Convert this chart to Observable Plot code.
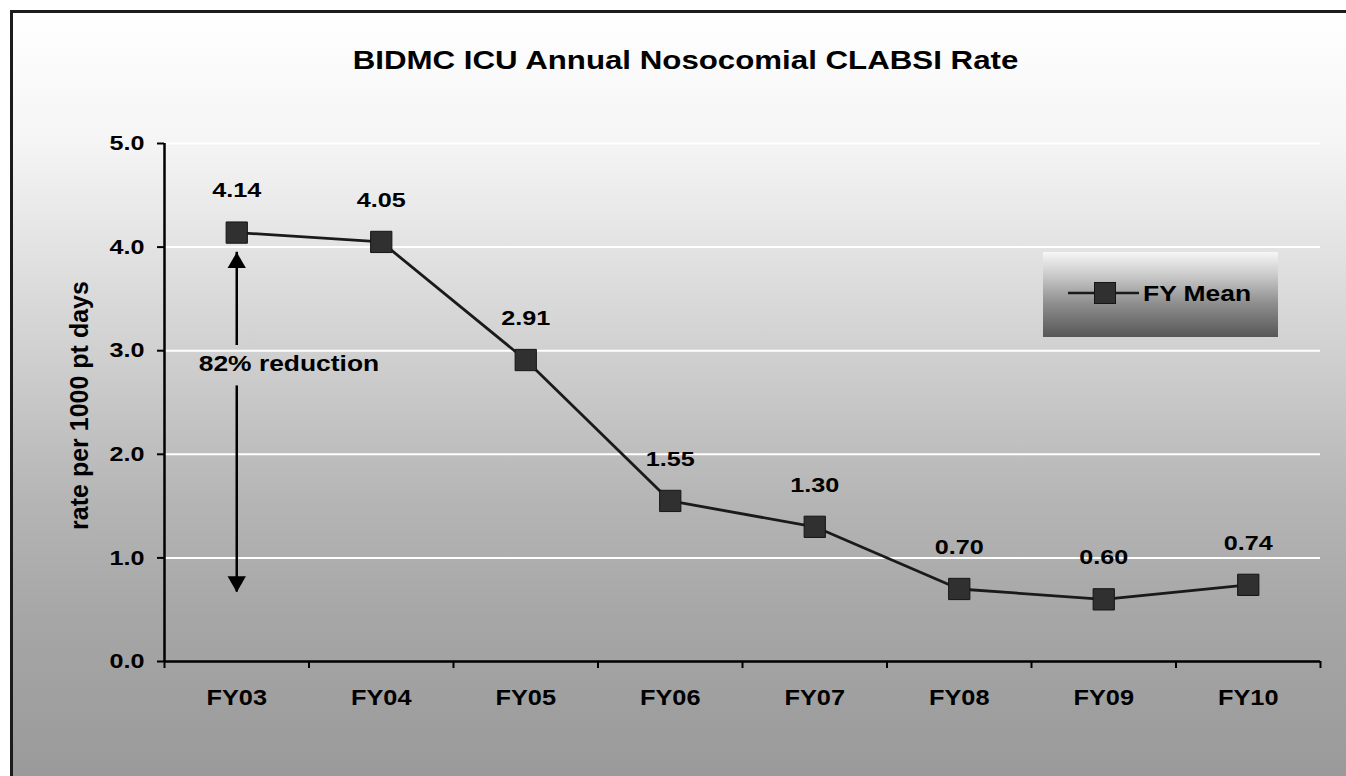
<!DOCTYPE html>
<html>
<head>
<meta charset="utf-8">
<script src="https://cdn.jsdelivr.net/npm/d3@7"></script>
<script src="https://cdn.jsdelivr.net/npm/@observablehq/plot@0.6"></script>
<style>
  html, body { margin: 0; padding: 0; background: #fff; overflow: hidden; width: 1346px; height: 776px; }
  #wrap { position: relative; width: 1346px; height: 776px; overflow: hidden; background: #fff; }
  #frame {
    position: absolute; left: 10px; top: 10px; width: 1336px; height: 766px;
    background: linear-gradient(to bottom, #ffffff 0px, #f5f5f5 130px, #e4e4e4 230px, #cbcbcb 370px, #b5b5b5 490px, #a6a6a6 610px, #9a9a9a 766px);
  }
  #edgeTop { position: absolute; left: 10px; top: 10px; width: 1336px; height: 3px; background: #1c1c1c; }
  #edgeLeft { position: absolute; left: 10px; top: 10px; width: 3px; height: 766px; background: #1c1c1c; }
  #chart { position: absolute; left: 0; top: 0; }
  #legend {
    position: absolute; left: 1043px; top: 252px; width: 235px; height: 85px;
    background: linear-gradient(to bottom, #f6f6f6 0%, #c9c9c9 28%, #8f8f8f 60%, #575757 100%);
  }
  #legend svg { position: absolute; left: 0; top: 0; }
</style>
</head>
<body>
<div id="wrap">
  <div id="frame"></div>
  <div id="edgeTop"></div>
  <div id="edgeLeft"></div>
  <div id="chart"></div>
  <div id="legend"></div>
</div>
<script>
// ---- data ----
const chartTitle = "BIDMC ICU Annual Nosocomial CLABSI Rate";
const yAxisTitle = "rate per 1000 pt days";
const seriesName = "FY Mean";
const categories = ["FY03", "FY04", "FY05", "FY06", "FY07", "FY08", "FY09", "FY10"];
const fyMean = [4.14, 4.05, 2.91, 1.55, 1.30, 0.70, 0.60, 0.74];
const yTicks = [0, 1, 2, 3, 4, 5];
const annotationText = "82% reduction";
const annotationCategory = "FY03";
const arrowEnds = [3.95, 0.67];     // arrow tips (rate units)
const arrowGap = [3.05, 2.66];      // gap in the shaft around the text
const annotationValue = 2.87;

// ---- table built from the arrays ----
const data = categories.map((c, i) => ({cat: c, pos: i + 0.5, value: fyMean[i]}));
const centers = categories.map((c, i) => i + 0.5);
const bounds = d3.range(categories.length + 1);
const annX = categories.indexOf(annotationCategory) + 0.5;
const shafts = [
  {x: annX, y1: arrowEnds[0], y2: arrowGap[0]},
  {x: annX, y1: arrowGap[1], y2: arrowEnds[1]}
];

const font = "'Liberation Sans', Arial, Helvetica, sans-serif";

const chart = Plot.plot({
  width: 1346,
  height: 776,
  marginLeft: 164,
  marginRight: 26,
  marginTop: 143,
  marginBottom: 115,
  x: {domain: [0, categories.length], label: null},
  y: {domain: [0, 5], label: null},
  style: {background: "transparent", fontFamily: font, fontWeight: "bold", color: "#000", overflow: "visible"},
  marks: [
    Plot.gridY(yTicks.filter(t => t > 0), {stroke: "#ffffff", strokeOpacity: 1, strokeWidth: 2}),
    Plot.axisY(yTicks, {tickSize: 7, tickPadding: 13, tickFormat: d3.format(".1f"), fontSize: 21, strokeWidth: 2, label: null}),
    Plot.axisX(bounds, {tickSize: 7, strokeWidth: 2, fill: "none", label: null}),
    Plot.axisX(centers, {tickSize: 0, tickPadding: 28, tickFormat: d => categories[Math.floor(d)], fontSize: 22, label: null}),
    Plot.ruleX([0], {y1: 0, y2: 5, stroke: "#000", strokeWidth: 2.5}),
    Plot.ruleY([0], {x1: 0, x2: categories.length, stroke: "#000", strokeWidth: 2.5}),
    Plot.line(data, {x: "pos", y: "value", stroke: "#1a1a1a", strokeWidth: 2.8}),
    Plot.dot(data, {x: "pos", y: "value", symbol: "square", r: 12, fill: "#303030", stroke: "#151515", strokeWidth: 1}),
    Plot.text(data, {x: "pos", y: "value", text: d => d3.format(".2f")(d.value), dy: -42, fontSize: 21, fill: "#000"}),
    Plot.ruleX(shafts, {x: "x", y1: "y1", y2: "y2", stroke: "#000", strokeWidth: 2.5}),
    Plot.dot([arrowEnds[0]], {x: () => annX, y: d => d, symbol: "triangle", r: 6.8, fill: "#000", dy: 10.5}),
    Plot.dot([arrowEnds[1]], {x: () => annX, y: d => d, symbol: "triangle", r: 6.8, fill: "#000", rotate: 180, dy: -10.5}),
    Plot.text([annotationText], {x: () => annX, y: () => annotationValue, textAnchor: "start", dx: -38, fontSize: 22, fill: "#000"}),
    Plot.text([chartTitle], {frameAnchor: "top", textAnchor: "middle", dx: -57, dy: -92, fontSize: 25, fill: "#000"}),
    Plot.text([yAxisTitle], {frameAnchor: "left", textAnchor: "middle", rotate: -90, dx: -85, dy: 3, fontSize: 25, fill: "#000"})
  ]
});
document.getElementById("chart").appendChild(chart);

// Legend (line + square marker + name)
const lg = d3.select("#legend").append("svg").attr("width", 235).attr("height", 85)
  .style("font-family", font).style("font-weight", "bold");
lg.append("line").attr("x1", 25).attr("x2", 96).attr("y1", 41).attr("y2", 41)
  .attr("stroke", "#1a1a1a").attr("stroke-width", 2.5);
lg.append("rect").attr("x", 51.5).attr("y", 30.5).attr("width", 21).attr("height", 21)
  .attr("fill", "#303030").attr("stroke", "#151515");
lg.append("text").attr("x", 100).attr("y", 41).attr("dy", "0.35em")
  .attr("font-size", 22).attr("fill", "#000").text(seriesName);

// Widen glyphs to match the reference's broad lettering (rotated axis title excluded)
document.querySelectorAll("#wrap svg text").forEach(t => {
  const s = t.textContent;
  if (!s || s === yAxisTitle) return;
  const w = t.getComputedTextLength();
  if (!(w > 0)) return;
  const f = s === chartTitle ? 1.25 : (categories.includes(s) ? 1.15 : 1.2);
  t.setAttribute("textLength", (w * f).toFixed(1));
  t.setAttribute("lengthAdjust", "spacingAndGlyphs");
});
</script>
</body>
</html>
